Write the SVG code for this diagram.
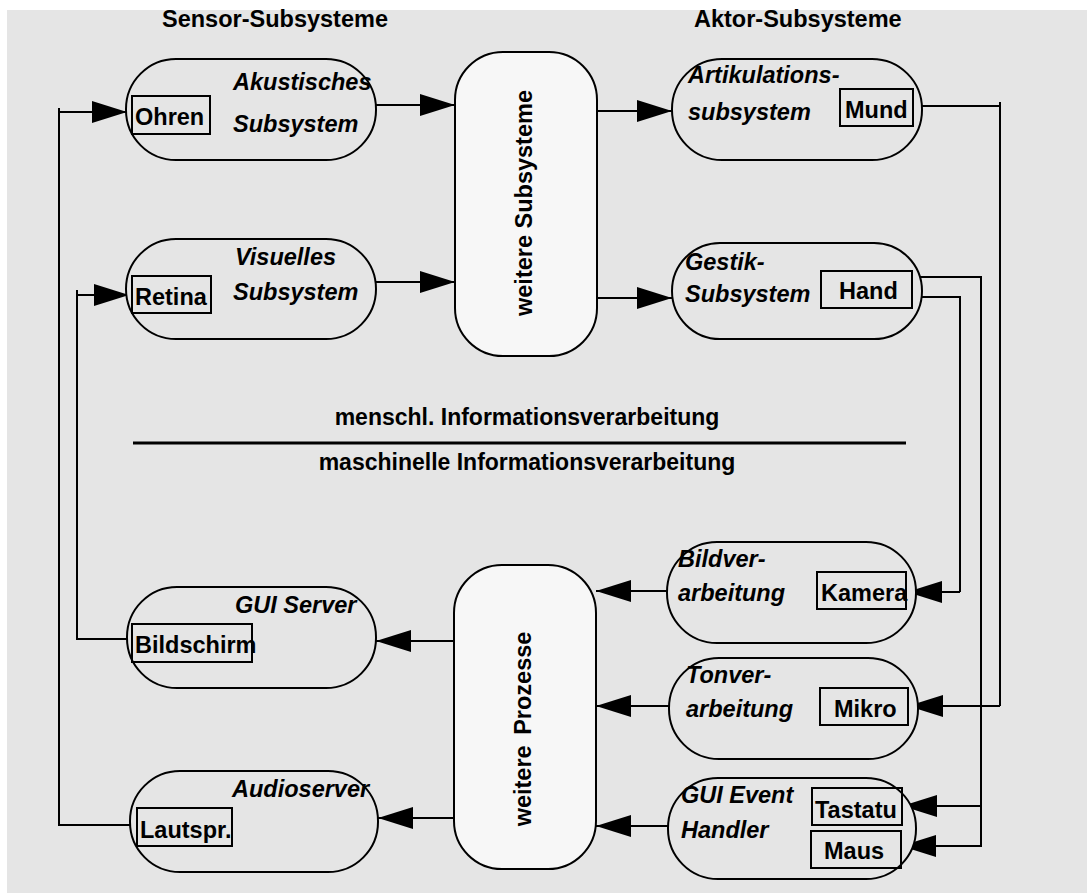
<svg xmlns="http://www.w3.org/2000/svg" width="1087" height="895" viewBox="0 0 1087 895">
  <style>
    .bg { fill: #e5e5e5; }
    .pill { fill: #e5e5e5; stroke: #000; stroke-width: 2; }
    .core { fill: #f7f7f7; stroke: #000; stroke-width: 2; }
    .box { fill: none; stroke: #000; stroke-width: 2; }
    .t { font-family: "Liberation Sans", Arial, sans-serif; font-weight: bold; font-size: 23.5px; fill: #000; }
    .i { font-style: italic; }
    .sep { font-size: 23px; }
    .wire { fill: none; stroke: #000; stroke-width: 2; }
    .arr { marker-end: url(#ah); }
  </style>
  <defs>
    <marker id="ah" markerUnits="userSpaceOnUse" markerWidth="36" markerHeight="22" refX="35" refY="11" orient="auto">
      <path d="M0,0 L35,11 L0,22 z" fill="#000"/>
    </marker>
  </defs>

  <rect class="bg" x="7" y="10" width="1080" height="883"/>

  <!-- column headings -->
  <text class="t" x="162" y="27">Sensor-Subsysteme</text>
  <text class="t" x="694" y="27">Aktor-Subsysteme</text>

  <!-- human / machine divider -->
  <g id="divider">
    <text class="t sep" x="527" y="425" text-anchor="middle">menschl. Informationsverarbeitung</text>
    <line x1="133" y1="443" x2="906" y2="443" stroke="#000" stroke-width="3"/>
    <text class="t sep" x="527" y="470" text-anchor="middle">maschinelle Informationsverarbeitung</text>
  </g>

  <!-- connectors -->
  <g id="connectors">
    <!-- feedback wires on the left -->
    <path class="wire" d="M59,108 V825 H137"/>
    <path class="wire arr" d="M59,112 H127"/>
    <path class="wire" d="M77,290 V639 H132"/>
    <path class="wire arr" d="M77,295 H129"/>
    <!-- sensors into central subsystems -->
    <path class="wire arr" d="M376,105 H455"/>
    <path class="wire arr" d="M376,282 H455"/>
    <!-- central subsystems to actors -->
    <path class="wire arr" d="M597,111 H672"/>
    <path class="wire arr" d="M597,298 H672"/>
    <!-- processes to servers -->
    <path class="wire arr" d="M454,641 H376"/>
    <path class="wire arr" d="M454,818 H378"/>
    <!-- input handlers to processes -->
    <path class="wire arr" d="M667,591 H596"/>
    <path class="wire arr" d="M669,706 H596"/>
    <path class="wire arr" d="M668,826 H596"/>
    <!-- actor wires on the right -->
    <path class="wire" d="M913,106 H1000"/>
    <path class="wire" d="M1000,102 V706"/>
    <path class="wire arr" d="M1000,706 H908"/>
    <path class="wire" d="M920,277 H981 V847"/>
    <path class="wire arr" d="M981,806 H902"/>
    <path class="wire arr" d="M981,846 H901"/>
    <path class="wire" d="M922,297 H960 V592"/>
    <path class="wire arr" d="M960,592 H907"/>
  </g>

  <!-- central blocks -->
  <g id="weitere-subsysteme">
    <rect class="core" x="455" y="52" width="142" height="304" rx="48" ry="48"/>
    <text class="t" transform="translate(532,203) rotate(-90)" text-anchor="middle">weitere Subsysteme</text>
  </g>
  <g id="weitere-prozesse">
    <rect class="core" x="454" y="565" width="142" height="304" rx="48" ry="48"/>
    <text class="t" transform="translate(531,729) rotate(-90)" text-anchor="middle" word-spacing="4">weitere Prozesse</text>
  </g>

  <!-- sensor subsystems -->
  <g id="akustisches-subsystem">
    <rect class="pill" x="126" y="59" width="250" height="101" rx="50" ry="50"/>
    <text class="t i" x="233" y="90">Akustisches</text>
    <text class="t i" x="233" y="132">Subsystem</text>
    <rect class="box" x="132" y="96" width="78" height="38"/>
    <text class="t" x="135" y="125">Ohren</text>
  </g>
  <g id="visuelles-subsystem">
    <rect class="pill" x="126" y="239" width="250" height="100" rx="50" ry="50"/>
    <text class="t i" x="235" y="265">Visuelles</text>
    <text class="t i" x="233" y="300">Subsystem</text>
    <rect class="box" x="132" y="276" width="79" height="37"/>
    <text class="t" x="135" y="305">Retina</text>
  </g>

  <!-- actor subsystems -->
  <g id="artikulationssubsystem">
    <rect class="pill" x="672" y="59" width="250" height="101" rx="50" ry="50"/>
    <text class="t i" x="688" y="83">Artikulations-</text>
    <text class="t i" x="688" y="120">subsystem</text>
    <rect class="box" x="840" y="89" width="73" height="37"/>
    <text class="t" x="845" y="118">Mund</text>
  </g>
  <g id="gestik-subsystem">
    <rect class="pill" x="672" y="243" width="250" height="96" rx="48" ry="48"/>
    <text class="t i" x="685" y="270">Gestik-</text>
    <text class="t i" x="685" y="302">Subsystem</text>
    <rect class="box" x="821" y="271" width="91" height="37"/>
    <text class="t" x="839" y="299">Hand</text>
  </g>

  <!-- machine input processing -->
  <g id="bildverarbeitung">
    <rect class="pill" x="667" y="542" width="249" height="101" rx="50" ry="50"/>
    <text class="t i" x="678" y="567">Bildver-</text>
    <text class="t i" x="678" y="601">arbeitung</text>
    <rect class="box" x="817" y="572" width="89" height="37"/>
    <text class="t" x="821" y="601">Kamera</text>
  </g>
  <g id="tonverarbeitung">
    <rect class="pill" x="669" y="658" width="249" height="101" rx="50" ry="50"/>
    <text class="t i" x="686" y="683">Tonver-</text>
    <text class="t i" x="686" y="717">arbeitung</text>
    <rect class="box" x="820" y="688" width="88" height="37"/>
    <text class="t" x="834" y="717">Mikro</text>
  </g>
  <g id="gui-event-handler">
    <rect class="pill" x="668" y="778" width="248" height="101" rx="50" ry="50"/>
    <text class="t i" x="681" y="803">GUI Event</text>
    <text class="t i" x="681" y="838">Handler</text>
    <rect class="box" x="812" y="788" width="90" height="37"/>
    <text class="t" x="815" y="818">Tastatu</text>
    <rect class="box" x="811" y="831" width="90" height="37"/>
    <text class="t" x="824" y="859">Maus</text>
  </g>

  <!-- machine output servers -->
  <g id="gui-server">
    <rect class="pill" x="127" y="587" width="249" height="101" rx="50" ry="50"/>
    <text class="t i" x="235" y="613">GUI Server</text>
    <rect class="box" x="132" y="624" width="120" height="38"/>
    <text class="t" x="135" y="653">Bildschirm</text>
  </g>
  <g id="audioserver">
    <rect class="pill" x="130" y="771" width="248" height="101" rx="50" ry="50"/>
    <text class="t i" x="232" y="797">Audioserver</text>
    <rect class="box" x="137" y="808" width="95" height="38"/>
    <text class="t" x="140" y="838">Lautspr.</text>
  </g>
</svg>
